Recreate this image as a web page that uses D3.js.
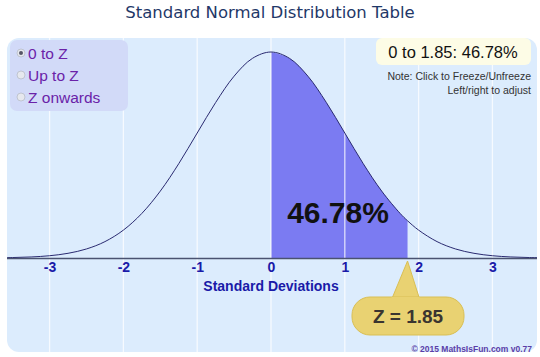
<!DOCTYPE html>
<html><head><meta charset="utf-8">
<script src="https://cdn.jsdelivr.net/npm/d3@7"></script>
<style>body{margin:0;background:#fff}svg{display:block}</style>
</head><body><div id="c"></div>
<script>
const ticks = [-3, -2, -1, 0, 1, 2, 3];
const tickLabels = ["-3", "-2", "-1", "0", "1", "2", "3"];
const zPoints = [-3.75,-3.5,-3.25,-3,-2.75,-2.5,-2.25,-2,-1.75,-1.5,-1.25,-1,-0.75,-0.5,-0.25,0,0.25,0.5,0.75,1,1.25,1.5,1.75,1.85,2,2.25,2.5,2.75,3,3.25,3.5,3.75];
const density = [0.0004,0.0009,0.0020,0.0044,0.0091,0.0175,0.0317,0.0540,0.0863,0.1295,0.1826,0.2420,0.3011,0.3521,0.3867,0.3989,0.3867,0.3521,0.3011,0.2420,0.1826,0.1295,0.0863,0.0721,0.0540,0.0317,0.0175,0.0091,0.0044,0.0020,0.0009,0.0004];
const zValue = 1.85;
const areaPct = 46.78;
const modes = ["0 to Z", "Up to Z", "Z onwards"];

const W = 540, H = 357;
const svg = d3.select("#c").append("svg").attr("width", W).attr("height", H);
const defs = svg.append("defs");
const cp = defs.append("clipPath").attr("id","pc");
cp.append("rect").attr("x",7).attr("y",38).attr("width",530).attr("height",314).attr("rx",12);

const x = d3.scaleLinear().domain([-3.6, 3.6]).range([5.3, 536.7]);
const y = d3.scaleLinear().domain([0, 0.3989]).range([258, 52]);

// title
svg.append("text").attr("x", 270).attr("y", 18).attr("text-anchor","middle")
  .attr("font-family","DejaVu Sans").attr("font-size",16.5).attr("fill","#1f3868")
  .text("Standard Normal Distribution Table");

// panel
svg.append("rect").attr("x",7).attr("y",38).attr("width",530).attr("height",314).attr("rx",12)
  .attr("fill","#dcecfd");
const g = svg.append("g").attr("clip-path","url(#pc)");

const pts = zPoints.map((z,i)=>({z, d: density[i]}));

// shaded area
const shaded = pts.filter(p => p.z >= 0 && p.z <= zValue);
g.append("path").datum(shaded)
  .attr("d", d3.area().x(p=>x(p.z)).y0(y(0)).y1(p=>y(p.d)).curve(d3.curveCatmullRom))
  .attr("fill","#7b7bf2");

// grid
g.selectAll("line.grid").data(ticks).join("line")
  .attr("x1", d=>x(d)).attr("x2", d=>x(d)).attr("y1",38).attr("y2",352)
  .attr("stroke","#ffffff").attr("stroke-opacity",0.75).attr("stroke-width",1.3);

// curve
g.append("path").datum(pts)
  .attr("d", d3.line().x(p=>x(p.z)).y(p=>y(p.d)).curve(d3.curveCatmullRom))
  .attr("fill","none").attr("stroke","#2a2a70").attr("stroke-width",1);

// axis
const axis = d3.axisBottom(x).tickValues(ticks).tickSize(0).tickPadding(4)
  .tickFormat((d,i)=>tickLabels[i]);
const ag = g.append("g").attr("transform","translate(0,258)").call(axis);
ag.select(".domain").attr("stroke","#4a5270").attr("stroke-width",1.6);
ag.selectAll("text").attr("font-family","Liberation Sans").attr("font-weight","bold")
  .attr("font-size",14).attr("fill","#1a1aa8");

svg.append("text").attr("x", x(0)).attr("y", 291).attr("text-anchor","middle")
  .attr("font-family","Liberation Sans").attr("font-weight","bold").attr("font-size",14)
  .attr("fill","#1a1aa8").text("Standard Deviations");

// big percent
svg.append("text").attr("x", 338).attr("y", 223).attr("text-anchor","middle")
  .attr("font-family","Liberation Sans").attr("font-weight","bold").attr("font-size",30)
  .attr("fill","#111").text(areaPct.toFixed(2) + "%");

// legend box
svg.append("rect").attr("x",10).attr("y",40).attr("width",118).attr("height",71).attr("rx",7)
  .attr("fill","#d2daf8");
modes.forEach((m,i)=>{
  const cy = 53 + i*22;
  svg.append("circle").attr("cx",21).attr("cy",cy).attr("r",4)
    .attr("fill","#e6e8ee").attr("stroke","#b8bcc8").attr("stroke-width",0.8);
  if (i===0) svg.append("circle").attr("cx",21).attr("cy",cy).attr("r",2).attr("fill","#556");
  svg.append("text").attr("x",28).attr("y",cy+5.5).attr("font-family","Liberation Sans")
    .attr("font-size",15.5).attr("fill","#6a22a8").text(m);
});

// info box
svg.append("rect").attr("x",376).attr("y",38).attr("width",155).attr("height",27).attr("rx",6)
  .attr("fill","#fdfce6");
svg.append("text").attr("x",453).attr("y",58).attr("text-anchor","middle")
  .attr("font-family","Liberation Sans").attr("font-size",16.5).attr("fill","#111")
  .text("0 to " + zValue.toFixed(2) + ": " + areaPct.toFixed(2) + "%");
svg.append("text").attr("x",531).attr("y",80).attr("text-anchor","end")
  .attr("font-family","Liberation Sans").attr("font-size",10.5).attr("fill","#333")
  .text("Note: Click to Freeze/Unfreeze");
svg.append("text").attr("x",531).attr("y",94).attr("text-anchor","end")
  .attr("font-family","Liberation Sans").attr("font-size",10.5).attr("fill","#333")
  .text("Left/right to adjust");

// callout
const tx = x(zValue);
const co = svg.append("g");
co.append("path").attr("d", `M${tx},${261} L${tx-17},${302} L${tx+13},${302} Z`)
  .attr("fill","#e9d272").attr("stroke","#d9bf55").attr("stroke-width",1);
co.append("rect").attr("x",352).attr("y",297).attr("width",112).attr("height",38).attr("rx",18)
  .attr("fill","#e9d272").attr("stroke","#d9bf55").attr("stroke-width",1);
co.append("path").attr("d", `M${tx-16},${299} L${tx+12},${299}`).attr("stroke","#e9d272").attr("stroke-width",4);
co.append("text").attr("x",408).attr("y",323).attr("text-anchor","middle")
  .attr("font-family","Liberation Sans").attr("font-weight","bold").attr("font-size",19)
  .attr("fill","#3a3530").text("Z = " + zValue.toFixed(2));

svg.append("text").attr("x",532).attr("y",352).attr("text-anchor","end")
  .attr("font-family","Liberation Sans").attr("font-weight","bold").attr("font-size",8.5)
  .attr("fill","#5a3ea8").text("© 2015 MathsIsFun.com v0.77");
</script></body></html>
